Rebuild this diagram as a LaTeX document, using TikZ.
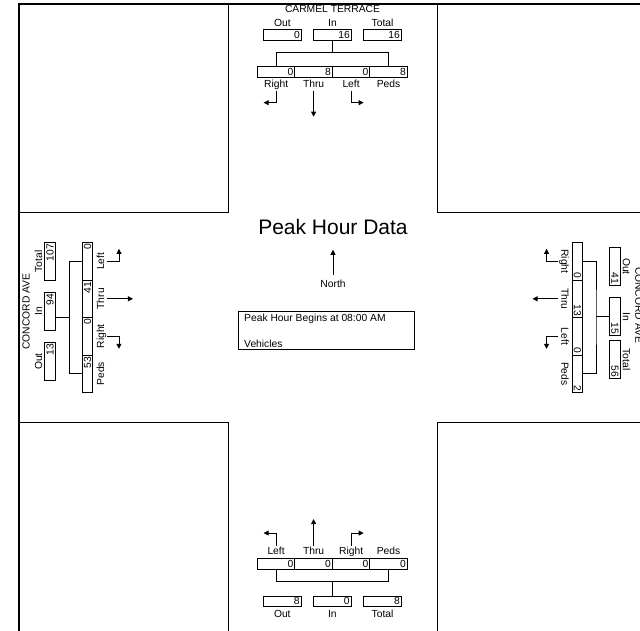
\documentclass[tikz,border=0pt]{standalone}
\usepackage{fontspec}
\setmainfont{Liberation Sans}
\usetikzlibrary{arrows.meta, calc}

\begin{document}
\begin{tikzpicture}[
    x=1pt, y=-1pt,
    cnt/.style={
        draw, line width=0.8pt, inner xsep=1.5pt, inner ysep=0pt,
        text width=34.5pt, align=right, text height=7.4pt, text depth=0pt,
        minimum height=10.6pt, font=\fontsize{10.3}{12}\selectfont
    },
    lbl/.style={inner sep=0pt, text height=7.4pt, text depth=2.1pt, font=\fontsize{10.3}{12}\selectfont},
    mv/.style={-{Triangle[length=5pt, width=5pt]}, line width=0.8pt},
    leg/.style={line width=0.8pt}
]
\useasboundingbox (0,0) rectangle (640,630);
\clip (0,0) rectangle (640,630);

% Frame and corner blocks
\draw[line width=1.6pt] (19,4) rectangle (646,632);
\draw[leg] (19,212) -| (228,4);
\draw[leg] (437,4) |- (646,212);
\draw[leg] (19,422) -| (228,632);
\draw[leg] (437,632) |- (646,422);

% Centre
\node[inner sep=0pt, font=\fontsize{21}{24}\selectfont] (title) at (333,226.7) {Peak Hour Data};
\node[lbl] (north) at (333,284.7) {North};
\draw[mv] ([yshift=5pt]north.north) -- ++(0,-25);
\node[draw, leg, minimum width=176pt, minimum height=37.3pt] (info) at (326.3,330.4) {};
\node[lbl, anchor=west] (begin) at (244,319) {Peak Hour Begins at 08:00 AM};
\node[lbl, anchor=west] (veh) at (244,344.7) {Vehicles};

% North leg - CARMEL TERRACE
\node[lbl] (tName) at (332.5,9.5) {CARMEL TERRACE};
\foreach \n/\x/\t/\v in {tOut/282.5/Out/0, tIn/332.5/In/16, tTot/382.5/Total/16} {
    \node[lbl] (\n-l) at (\x,24) {\t};
    \node[cnt] (\n) at (\x,35) {\v};
}
\foreach \n/\x/\t/\v in {tR/276.1/Right/0, tT/313.6/Thru/8, tL/351.1/Left/0, tP/388.6/Peds/8} {
    \node[cnt] (\n) at (\x,72) {\v};
    \node[lbl] (\n-l) at (\x,84.7) {\t};
}
\coordinate (tBr) at (332.5,52.7);
\draw[leg] (tIn.south) -- (tBr);
\draw[leg] (tR.north) |- (tBr) -| (tP.north);
\draw[mv] ([yshift=-1pt]tR-l.south) -- ++(0,12) -- ++(-12.5,0);
\draw[mv] ([yshift=-1pt]tT-l.south) -- ++(0,26);
\draw[mv] ([yshift=-1pt]tL-l.south) -- ++(0,12) -- ++(12.5,0);

% South leg
\foreach \n/\x/\t/\v in {bL/276.1/Left/0, bT/313.6/Thru/0, bR/351.1/Right/0, bP/388.6/Peds/0} {
    \node[cnt] (\n) at (\x,563.8) {\v};
    \node[lbl] (\n-l) at (\x,552) {\t};
}
\foreach \n/\x/\t/\v in {bOut/282.3/Out/8, bIn/332.3/In/0, bTot/382.5/Total/8} {
    \node[cnt] (\n) at (\x,601.2) {\v};
    \node[lbl] (\n-l) at (\x,614.7) {\t};
}
\coordinate (bBr) at (332.3,581.7);
\draw[leg] (bIn.north) -- (bBr);
\draw[leg] (bL.south) |- (bBr) -| (bP.south);
\draw[mv] ([yshift=1pt]bL-l.north) -- ++(0,-13) -- ++(-12.5,0);
\draw[mv] ([yshift=1pt]bT-l.north) -- ++(0,-27);
\draw[mv] ([yshift=1pt]bR-l.north) -- ++(0,-13) -- ++(12.5,0);

% West leg - CONCORD AVE
\node[lbl, rotate=90] (lName) at (27,311.5) {CONCORD AVE};
\foreach \n/\y/\t/\v in {lTot/261.5/Total/107, lIn/311.5/In/94, lOut/361.5/Out/13} {
    \node[lbl, rotate=90] (\n-l) at (39.5,\y) {\t};
    \node[cnt, rotate=90] (\n) at (50,\y) {\v};
}
\foreach \n/\y/\t/\v in {lL/261.3/Left/0, lT/298.8/Thru/41, lR/336.3/Right/0, lP/373.8/Peds/53} {
    \node[cnt, rotate=90] (\n) at (87.5,\y) {\v};
    \node[lbl, rotate=90] (\n-l) at (101.5,\y) {\t};
}
\coordinate (lBr) at (69.3,317);
\draw[leg] (lIn.south |- lBr) -- (lBr);
\draw[leg] (lL.north) -| (lBr) |- (lP.north);
\draw[mv] ([xshift=1pt]lL-l.south) -- ++(11.5,0) -- ++(0,-12.5);
\draw[mv] ([xshift=1pt]lT-l.south) -- ++(25.5,0);
\draw[mv] ([xshift=1pt]lR-l.south) -- ++(11.5,0) -- ++(0,12.5);

% East leg - CONCORD AVE
\node[lbl, rotate=-90] (rName) at (638,305) {CONCORD AVE};
\foreach \n/\y/\t/\v in {rOut/266.5/Out/41, rIn/316.5/In/15, rTot/359.5/Total/56} {
    \node[lbl, rotate=-90] (\n-l) at (625.5,\y) {\t};
    \node[cnt, rotate=-90] (\n) at (615,\y) {\v};
}
\foreach \n/\y/\t/\v in {rR/261.3/Right/0, rT/298.8/Thru/13, rL/336.3/Left/0, rP/373.8/Peds/2} {
    \node[cnt, rotate=-90] (\n) at (577.5,\y) {\v};
    \node[lbl, rotate=-90] (\n-l) at (564,\y) {\t};
}
\coordinate (rBr) at (596,316.7);
\draw[leg] (rIn.south |- rBr) -- (rBr);
\draw[leg] (rR.north) -| (rBr) |- (rP.north);
\draw[mv] ([xshift=-1pt]rR-l.south) -- ++(-11.5,0) -- ++(0,-12.5);
\draw[mv] ([xshift=-1pt]rT-l.south) -- ++(-25.5,0);
\draw[mv] ([xshift=-1pt]rL-l.south) -- ++(-11.5,0) -- ++(0,12.5);

\end{tikzpicture}
\end{document}
